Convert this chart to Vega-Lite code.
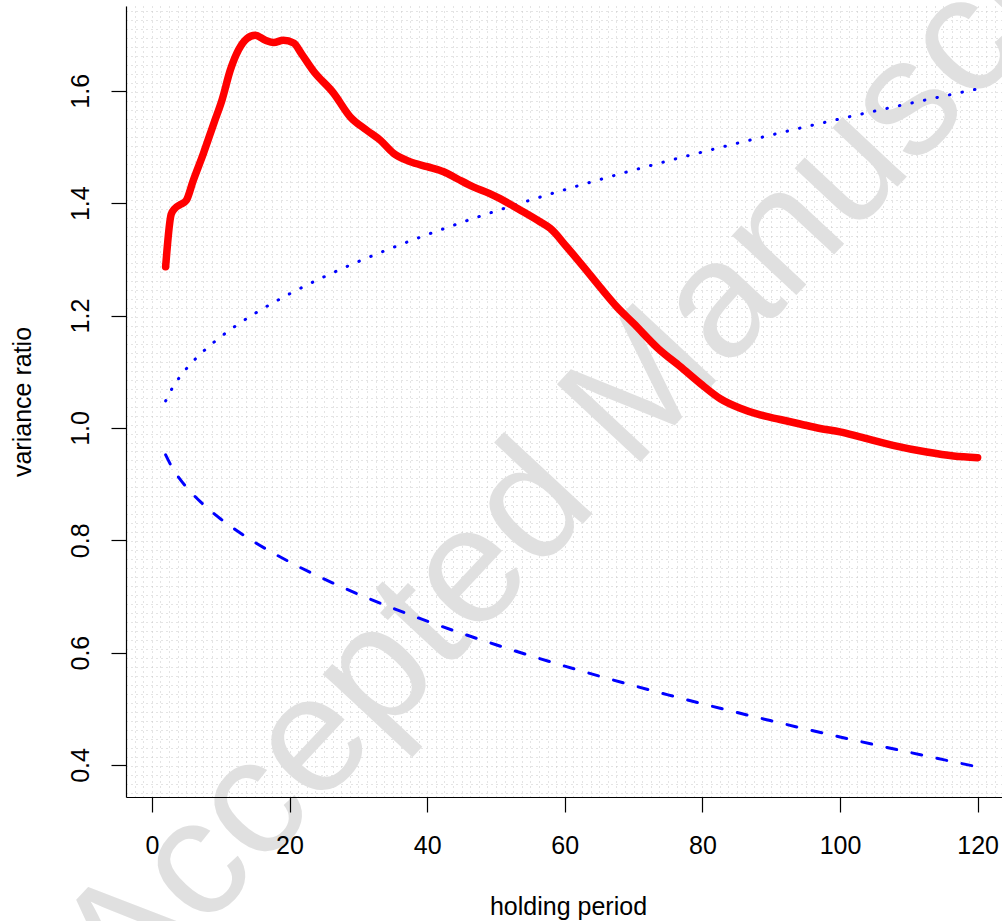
{
  "$schema": "https://vega.github.io/schema/vega-lite/v6.json",
  "width": 876,
  "height": 791,
  "autosize": {"type": "none"},
  "padding": {"left": 126, "top": 6, "right": 0, "bottom": 124},
  "background": "white",
  "config": {"view": {"stroke": null}, "font": "Liberation Sans"},
  "datasets": {
    "vr": [
      {"q": 2, "vr": 1.287}, {"q": 2.8, "vr": 1.38}, {"q": 3.3, "vr": 1.39}, {"q": 4.2, "vr": 1.398},
      {"q": 5, "vr": 1.405}, {"q": 6, "vr": 1.44}, {"q": 7.5, "vr": 1.489}, {"q": 9, "vr": 1.542},
      {"q": 10.2, "vr": 1.584}, {"q": 11.4, "vr": 1.637}, {"q": 12.6, "vr": 1.673}, {"q": 13.8, "vr": 1.693},
      {"q": 15, "vr": 1.699}, {"q": 16.5, "vr": 1.69}, {"q": 17.7, "vr": 1.686}, {"q": 19.1, "vr": 1.69},
      {"q": 20.6, "vr": 1.685}, {"q": 21.8, "vr": 1.665}, {"q": 23.5, "vr": 1.635}, {"q": 26.4, "vr": 1.596},
      {"q": 28.8, "vr": 1.554}, {"q": 31.2, "vr": 1.53}, {"q": 33.2, "vr": 1.512}, {"q": 35.1, "vr": 1.489},
      {"q": 37.5, "vr": 1.474}, {"q": 40, "vr": 1.465}, {"q": 42.4, "vr": 1.456}, {"q": 44.3, "vr": 1.444},
      {"q": 46.7, "vr": 1.429}, {"q": 49.1, "vr": 1.417}, {"q": 50.6, "vr": 1.408}, {"q": 53.5, "vr": 1.388},
      {"q": 56.4, "vr": 1.367}, {"q": 57.9, "vr": 1.355}, {"q": 60.3, "vr": 1.322}, {"q": 62.7, "vr": 1.287},
      {"q": 65.1, "vr": 1.251}, {"q": 67.6, "vr": 1.215}, {"q": 70, "vr": 1.186}, {"q": 73.6, "vr": 1.141},
      {"q": 76.8, "vr": 1.109}, {"q": 79.7, "vr": 1.079}, {"q": 82.6, "vr": 1.052}, {"q": 85.5, "vr": 1.035},
      {"q": 88.4, "vr": 1.023}, {"q": 91.3, "vr": 1.015}, {"q": 94.2, "vr": 1.007}, {"q": 97.1, "vr": 0.999},
      {"q": 100, "vr": 0.993}, {"q": 102.9, "vr": 0.984}, {"q": 107.7, "vr": 0.969}, {"q": 112.6, "vr": 0.957},
      {"q": 116.5, "vr": 0.95}, {"q": 120, "vr": 0.947}
    ],
    "band": [
      {"q": 2, "upper": 1.048, "lower": 0.952}, {"q": 3, "upper": 1.0716, "lower": 0.9284},
      {"q": 4, "upper": 1.0898, "lower": 0.9102}, {"q": 5, "upper": 1.1052, "lower": 0.8948},
      {"q": 6, "upper": 1.1187, "lower": 0.8813}, {"q": 7, "upper": 1.1308, "lower": 0.8692},
      {"q": 8, "upper": 1.142, "lower": 0.858}, {"q": 9, "upper": 1.1523, "lower": 0.8477},
      {"q": 10, "upper": 1.1621, "lower": 0.8379}, {"q": 12, "upper": 1.18, "lower": 0.82},
      {"q": 15, "upper": 1.2039, "lower": 0.7961}, {"q": 20, "upper": 1.2386, "lower": 0.7614},
      {"q": 25, "upper": 1.2688, "lower": 0.7312}, {"q": 30, "upper": 1.296, "lower": 0.704},
      {"q": 35, "upper": 1.3209, "lower": 0.6791}, {"q": 40, "upper": 1.344, "lower": 0.656},
      {"q": 45, "upper": 1.3656, "lower": 0.6344}, {"q": 50, "upper": 1.386, "lower": 0.614},
      {"q": 55, "upper": 1.4055, "lower": 0.5945}, {"q": 60, "upper": 1.424, "lower": 0.576},
      {"q": 65, "upper": 1.4417, "lower": 0.5583}, {"q": 70, "upper": 1.4588, "lower": 0.5412},
      {"q": 75, "upper": 1.4752, "lower": 0.5248}, {"q": 80, "upper": 1.4911, "lower": 0.5089},
      {"q": 85, "upper": 1.5065, "lower": 0.4935}, {"q": 90, "upper": 1.5214, "lower": 0.4786},
      {"q": 95, "upper": 1.536, "lower": 0.464}, {"q": 100, "upper": 1.5501, "lower": 0.4499},
      {"q": 105, "upper": 1.5639, "lower": 0.4361}, {"q": 110, "upper": 1.5773, "lower": 0.4227},
      {"q": 115, "upper": 1.5905, "lower": 0.4095}, {"q": 120, "upper": 1.6034, "lower": 0.3966}
    ],
    "wm": [{"label": "Accepted Manuscript", "q": 68, "v": 1.03}]
  },
  "layer": [
    {
      "data": {"name": "wm"},
      "mark": {"type": "text", "angle": -47, "fontSize": 166, "color": "#e0e0e0", "font": "Liberation Sans", "align": "center", "baseline": "middle", "clip": false},
      "encoding": {
        "text": {"field": "label"},
        "x": {"field": "q", "type": "quantitative",
          "scale": {"domain": [-3.76, 123.54], "nice": false, "zero": false},
          "axis": {"orient": "top", "domain": false, "ticks": false, "labels": false, "title": null, "grid": true,
            "gridColor": "#c8c8c8", "gridDash": [1, 4], "gridWidth": 1,
            "values": [-3.75,-2.5,-1.25,0,1.25,2.5,3.75,5,6.25,7.5,8.75,10,11.25,12.5,13.75,15,16.25,17.5,18.75,20,21.25,22.5,23.75,25,26.25,27.5,28.75,30,31.25,32.5,33.75,35,36.25,37.5,38.75,40,41.25,42.5,43.75,45,46.25,47.5,48.75,50,51.25,52.5,53.75,55,56.25,57.5,58.75,60,61.25,62.5,63.75,65,66.25,67.5,68.75,70,71.25,72.5,73.75,75,76.25,77.5,78.75,80,81.25,82.5,83.75,85,86.25,87.5,88.75,90,91.25,92.5,93.75,95,96.25,97.5,98.75,100,101.25,102.5,103.75,105,106.25,107.5,108.75,110,111.25,112.5,113.75,115,116.25,117.5,118.75,120,121.25,122.5]}},
        "y": {"field": "v", "type": "quantitative",
          "scale": {"domain": [0.343, 1.751], "nice": false, "zero": false},
          "axis": {"orient": "right", "domain": false, "ticks": false, "labels": false, "title": null, "grid": true,
            "gridColor": "#c8c8c8", "gridDash": [1, 4], "gridWidth": 1,
            "values": [0.35,0.366,0.382,0.398,0.414,0.43,0.446,0.462,0.478,0.494,0.51,0.526,0.542,0.558,0.574,0.59,0.606,0.622,0.638,0.654,0.67,0.686,0.702,0.718,0.734,0.75,0.766,0.782,0.798,0.814,0.83,0.846,0.862,0.878,0.894,0.91,0.926,0.942,0.958,0.974,0.99,1.006,1.022,1.038,1.054,1.07,1.086,1.102,1.118,1.134,1.15,1.166,1.182,1.198,1.214,1.23,1.246,1.262,1.278,1.294,1.31,1.326,1.342,1.358,1.374,1.39,1.406,1.422,1.438,1.454,1.47,1.486,1.502,1.518,1.534,1.55,1.566,1.582,1.598,1.614,1.63,1.646,1.662,1.678,1.694,1.71,1.726,1.742]}}
      }
    },
    {
      "data": {"name": "band"},
      "mark": {"type": "line", "color": "#0000ff", "strokeWidth": 3, "strokeDash": [0.5, 12.3], "strokeCap": "round", "interpolate": "monotone"},
      "encoding": {
        "x": {"field": "q", "type": "quantitative",
          "scale": {"domain": [-3.76, 123.54], "nice": false, "zero": false},
          "axis": {"orient": "bottom", "zindex": 1, "values": [0, 20, 40, 60, 80, 100, 120], "grid": false,
            "domainColor": "black", "domainWidth": 1.2, "tickColor": "black", "tickWidth": 1.2, "tickSize": 15,
            "labelFontSize": 25, "labelColor": "black", "labelPadding": 21, "labelFont": "Liberation Sans",
            "labelFlush": false, "labelOverlap": false,
            "title": "holding period", "titleFontSize": 25, "titleFontWeight": "normal", "titleColor": "black",
            "titleFont": "Liberation Sans", "titleBaseline": "alphabetic", "titleAlign": "center", "titleX": 442, "titleY": 117}},
        "y": {"field": "upper", "type": "quantitative",
          "scale": {"domain": [0.343, 1.751], "nice": false, "zero": false},
          "axis": {"orient": "left", "zindex": 1, "values": [0.4, 0.6, 0.8, 1.0, 1.2, 1.4, 1.6], "grid": false, "format": ".1f",
            "domainColor": "black", "domainWidth": 1.2, "tickColor": "black", "tickWidth": 1.2, "tickSize": 15,
            "labelFontSize": 25, "labelColor": "black", "labelPadding": 23, "labelFont": "Liberation Sans",
            "labelAngle": -90, "labelAlign": "center", "labelBaseline": "alphabetic", "labelFlush": false, "labelOverlap": false,
            "title": "variance ratio", "titleFontSize": 25, "titleFontWeight": "normal", "titleColor": "black",
            "titleFont": "Liberation Sans", "titleAngle": -90, "titleBaseline": "alphabetic", "titleAlign": "center",
            "titleX": -96, "titleY": 395.5}}
      }
    },
    {
      "data": {"name": "band"},
      "mark": {"type": "line", "color": "#0000ff", "strokeWidth": 3, "strokeDash": [10, 15.6], "strokeCap": "round", "interpolate": "monotone"},
      "encoding": {
        "x": {"field": "q", "type": "quantitative", "scale": {"domain": [-3.76, 123.54], "nice": false, "zero": false}, "axis": null},
        "y": {"field": "lower", "type": "quantitative", "scale": {"domain": [0.343, 1.751], "nice": false, "zero": false}, "axis": null}
      }
    },
    {
      "mark": {"type": "rule", "color": "black", "strokeWidth": 1.3},
      "encoding": {"y": {"datum": 1.0, "type": "quantitative", "scale": {"domain": [0.343, 1.751], "nice": false, "zero": false}, "axis": null}}
    },
    {
      "mark": {"type": "rule", "color": "black", "strokeWidth": 1.2},
      "encoding": {"y": {"datum": 1.751, "type": "quantitative", "scale": {"domain": [0.343, 1.751], "nice": false, "zero": false}, "axis": null}}
    },
    {
      "data": {"name": "vr"},
      "mark": {"type": "line", "color": "#ff0000", "strokeWidth": 7.5, "strokeCap": "round", "strokeJoin": "round", "interpolate": "monotone"},
      "encoding": {
        "x": {"field": "q", "type": "quantitative", "scale": {"domain": [-3.76, 123.54], "nice": false, "zero": false}, "axis": null},
        "y": {"field": "vr", "type": "quantitative", "scale": {"domain": [0.343, 1.751], "nice": false, "zero": false}, "axis": null}
      }
    }
  ],
  "resolve": {"axis": {"x": "independent", "y": "independent"}}
}
